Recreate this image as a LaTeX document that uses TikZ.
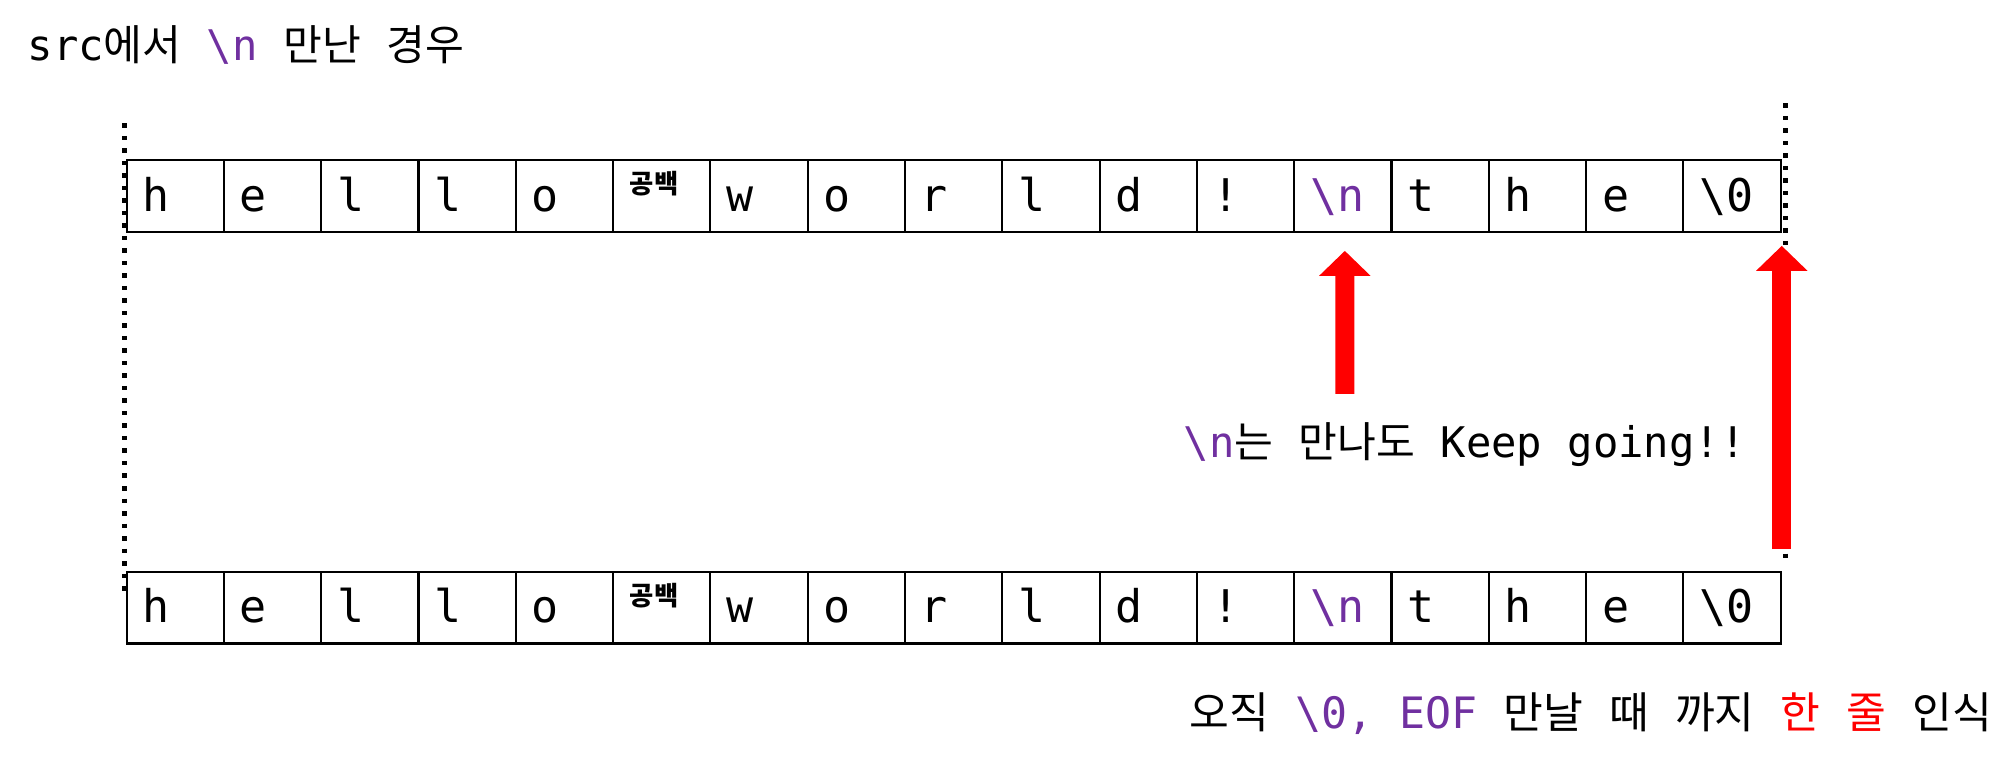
\documentclass[tikz,border=0pt]{standalone}
\usepackage{fontspec}
\setmonofont{DejaVu Sans Mono}
\newfontfamily\krfont{Noto Sans CJK KR}
\usepackage{xcolor}
\usetikzlibrary{arrows.meta}
\definecolor{nlpurple}{RGB}{112,48,160}
\definecolor{red}{RGB}{255,0,0}
\newcommand{\ko}[1]{{\krfont #1}}
\newcommand{\nl}{\textcolor{nlpurple}{\textbackslash n}}
\newcommand{\eos}{\textbackslash 0}
\tikzset{
    cellbox/.style={
        draw,
        line width=0.6pt,
        anchor=north west,
        minimum width=0.973cm,
        minimum height=0.714cm,
        inner xsep=0.16cm,
        inner ysep=0pt,
        text width=0.653cm,
        align=left,
        text height=0.3cm,
        text depth=0pt,
        font=\ttfamily\fontsize{12.8}{14}\selectfont
    },
    % 빨간 화살표
    redarrow/.style={
        red,
        line width=0.19cm,
        -{Triangle[length=0.25cm, width=0.5cm]}
    },
    dotline/.style={
        line width=0.05cm,
        dash pattern=on 0.045cm off 0.08cm
    },
    spacetag/.style={
        inner sep=0pt,
        font=\krfont\bfseries\fontsize{7.5}{8}\selectfont
    },
    remark/.style={
        anchor=base west,
        inner sep=0pt,
        font=\ttfamily\fontsize{12}{14}\selectfont
    }
}
\begin{document}
\begin{tikzpicture}[x=0.01cm,y=-0.01cm]
    \useasboundingbox (0,0) rectangle (2011,761);
    \foreach \ch [count=\i] in {h,e,l,l,o,{},w,o,r,l,d,!,\nl,t,h,e,\eos} {
        \node[cellbox] (t\i) at ({125.5+(\i-1)*97.3},159.3) {\ch};
        \node[cellbox] (b\i) at ({125.5+(\i-1)*97.3},571) {\ch};
    }
    \node[spacetag] (sp1) at ([shift={(-7.6,-12)}]t6.center) {공백};
    \node[spacetag] (sp2) at ([shift={(-7.6,-12)}]b6.center) {공백};

    \draw[dotline] ([shift={(-1,-36)}]t1.north west) -- ([shift={(-1,25)}]b1.north west);
    \draw[dotline] ([shift={(4,-56)}]t17.north east) -- ([shift={(4,-7)}]b17.north east);

    \coordinate (ntail) at ([shift={(2,161)}]t13.south);
    \draw[redarrow, shorten >=0.18cm] (ntail) -- ([xshift=0.02cm]t13.south);
    \coordinate (eoftail) at ([yshift=-3.16cm]t17.south east);
    \draw[redarrow, shorten >=0.13cm] (eoftail) -- (t17.south east);

    \node[remark] (title) at (27,61) {src\ko{에서} \nl{} \ko{만난} \ko{경우}};
    \node[remark] (keep) at (1183,458) {\nl\ko{는} \ko{만나도} Keep going!!};
    \node[remark, font=\ttfamily\fontsize{12.3}{14}\selectfont] (eofnote) at (1189,729) {\ko{오직} \textcolor{nlpurple}{\textbackslash 0, EOF} \ko{만날} \ko{때} \ko{까지} \textcolor{red}{\ko{한} \ko{줄}} \ko{인식}};
\end{tikzpicture}
\end{document}
